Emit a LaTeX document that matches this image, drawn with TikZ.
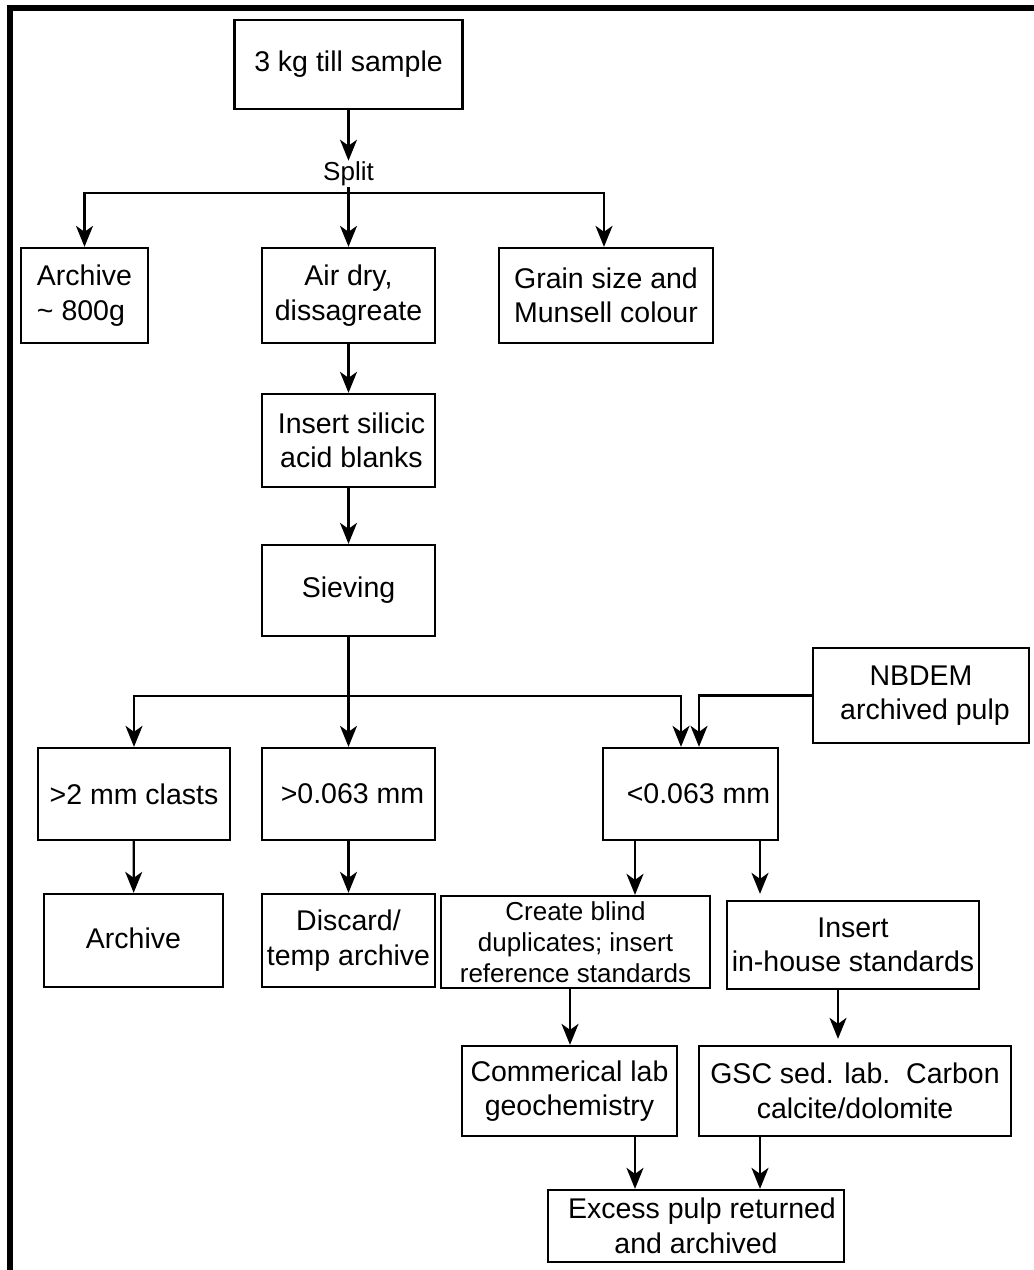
\documentclass[tikz,border=0pt]{standalone}
\usepackage{fontspec}
\setmainfont{Liberation Sans}
\usetikzlibrary{arrows.meta}
\begin{document}
\begin{tikzpicture}[x=1pt,y=-1pt,
  box/.style={draw,line width=2.3pt,inner sep=0pt,align=center,font=\fontsize{28.5}{34.5}\selectfont},
  smallbox/.style={box,font=\fontsize{26}{31}\selectfont},
  arr/.style={line width=2.3pt,-{Stealth[length=21pt,width=17pt,inset=6pt]}},
  frame/.style={line width=6pt}]
\useasboundingbox (0,0) rectangle (1034,1270);
% outer frame (only top and left visible)
\draw[frame] (10,1270) -- (10,8) -- (1034,8);

% nodes
\node[box,minimum width=228pt,minimum height=89pt] (top) at (348.5,64.5) {3 kg till sample};
\node[inner sep=1pt,font=\fontsize{26}{30}\selectfont] (split) at (348.5,174) {Split};
\node[box,align=left,minimum width=127pt,minimum height=95pt] (arch) at (84.5,295.5) {Archive\\\textasciitilde\ 800g};
\node[box,minimum width=173pt,minimum height=95pt] (air) at (348.5,295.5) {Air dry,\\dissagreate};
\node[box,minimum width=214pt,minimum height=95pt] (grain) at (606,295.5) {Grain size and\\Munsell colour};
\node[box,minimum width=173pt,minimum height=93pt] (sil) at (348.5,440.5) {\hspace*{6pt}Insert silicic\\\hspace*{6pt}acid blanks};
\node[box,minimum width=173pt,minimum height=91pt] (siev) at (348.5,590.5) {Sieving};
\node[box,minimum width=216pt,minimum height=95pt] (nbdem) at (921,695.5) {NBDEM\\\hspace*{8pt}archived pulp};
\node[box,minimum width=192pt,minimum height=92pt] (clasts) at (134,794) {{>}2 mm clasts};
\node[box,minimum width=173pt,minimum height=92pt] (coarse) at (348.5,794) {\hspace*{8pt}{>}0.063 mm};
\node[box,minimum width=175pt,minimum height=92pt] (fine) at (690.5,794) {\hspace*{16pt}{<}0.063 mm};
\node[box,minimum width=179pt,minimum height=93pt] (arch2) at (133.5,940.5) {\raisebox{5pt}{Archive}};
\node[box,minimum width=173pt,minimum height=93pt] (disc) at (348.5,940.5) {Discard/\\temp archive};
\node[smallbox,minimum width=269pt,minimum height=92pt] (blind) at (575.5,942) {Create blind\\duplicates; insert\\reference standards};
\node[box,minimum width=252pt,minimum height=88pt] (inh) at (853,945) {Insert\\in-house standards};
\node[box,minimum width=215pt,minimum height=90pt] (comm) at (569.5,1091) {Commerical lab\\geochemistry};
\node[box,minimum width=312pt,minimum height=90pt] (gsc) at (855,1091) {GSC sed. lab.\ \ Carbon\\calcite/dolomite};
\node[box,minimum width=296pt,minimum height=72pt] (exc) at (696,1226) {\hspace*{12pt}Excess pulp returned\\and archived};

% lane coordinates
\coordinate (sp) at (348.5,193);
\coordinate (sv) at (348.5,696);
\coordinate (xa) at (681,0);
\coordinate (xb) at (699,0);
\coordinate (xc) at (635,0);
\coordinate (xd) at (760,0);
\coordinate (xe) at (570,0);
\coordinate (xf) at (838,0);
\coordinate (xg) at (604,0);

% connectors
\draw[arr] (top) -- (split);
\draw[arr] (split) -- (air);
\draw[arr] (sp) -| (arch.north);
\draw[arr] (sp) -| (grain.north -| xg);
\draw[arr] (air) -- (sil);
\draw[arr] (sil) -- (siev);
\draw[arr] (siev) -- (coarse);
\draw[arr] (sv) -| (clasts.north);
\draw[arr] (sv) -| (fine.north -| xa);
\draw[arr] (nbdem.west) -| (fine.north -| xb);
\draw[arr] (clasts) -- (arch2);
\draw[arr] (coarse) -- (disc);
\draw[arr] (fine.south -| xc) -- (blind.north -| xc);
\draw[arr,shorten >=6pt] (fine.south -| xd) -- (inh.north -| xd);
\draw[arr] (blind.south -| xe) -- (comm.north -| xe);
\draw[arr,shorten >=6pt] (inh.south -| xf) -- (gsc.north -| xf);
\draw[arr] (comm.south -| xc) -- (exc.north -| xc);
\draw[arr] (gsc.south -| xd) -- (exc.north -| xd);
\end{tikzpicture}
\end{document}
